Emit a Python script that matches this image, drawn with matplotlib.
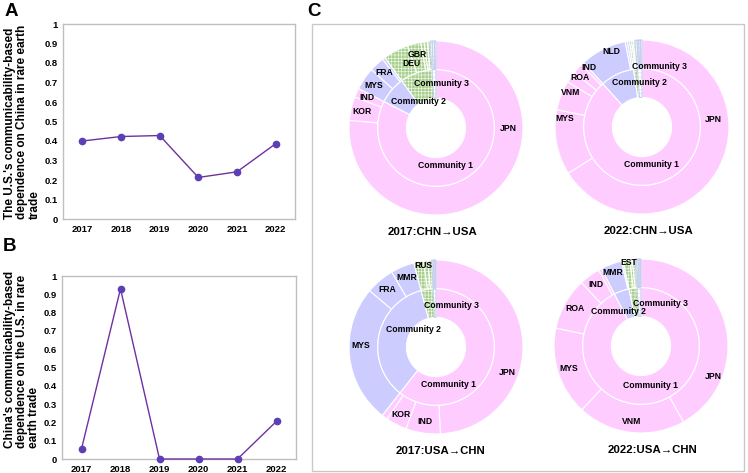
import numpy as np
import matplotlib
matplotlib.use("Agg")
import matplotlib.pyplot as plt
from matplotlib.patches import Rectangle

plt.rcParams['font.family'] = ['Liberation Sans', 'DejaVu Sans']
plt.rcParams['font.weight'] = 'bold'
plt.rcParams['hatch.linewidth'] = 0.35

# ---- data: panels A / B ----
years = ['2017', '2018', '2019', '2020', '2021', '2022']
us_dep_on_china = [0.40, 0.423, 0.428, 0.213, 0.242, 0.386]
china_dep_on_us = [0.055, 0.93, 0.0, 0.0, 0.0, 0.206]

# ---- data: panel C (outer ring shares in %, community of each slice) ----
# community 0 = Community 1, 1 = Community 2, 2 = Community 3, 3 = others
titles = ['2017:CHN\u2192USA', '2022:CHN\u2192USA', '2017:USA\u2192CHN', '2022:USA\u2192CHN']

names_17_cu = ['JPN', 'KOR', 'IND', 'MYS', 'FRA', '', 'DEU', 'GBR', '', '', '', '', '', '']
share_17_cu = [76.4, 4.4, 1.7, 4.2, 2.8, 0.5, 4.7, 2.5, 0.6, 0.6, 0.5, 0.4, 0.4, 0.3]
comm_17_cu = [0, 0, 0, 1, 1, 1, 2, 2, 2, 2, 2, 3, 3, 3]

names_22_cu = ['JPN', 'MYS', 'VNM', 'ROA', 'IND', '', 'NLD', '', '', '', '', '', '', '', '', '']
share_22_cu = [66.1, 12.1, 5.5, 2.1, 1.9, 0.6, 8.6, 0.4, 0.4, 0.4, 0.3, 0.3, 0.4, 0.3, 0.3, 0.3]
comm_22_cu = [0, 0, 0, 0, 0, 0, 1, 1, 1, 2, 2, 2, 3, 3, 3, 3]

names_17_uc = ['JPN', 'IND', 'KOR', '', 'MYS', 'FRA', 'MMR', 'RUS', '', '', '', '', '']
share_17_uc = [49.2, 6.4, 3.9, 1.1, 25.6, 5.3, 4.4, 1.8, 0.8, 0.7, 0.3, 0.3, 0.2]
comm_17_uc = [0, 0, 0, 0, 1, 1, 1, 2, 2, 2, 3, 3, 3]

names_22_uc = ['JPN', 'VNM', 'MYS', 'ROA', 'IND', '', 'MMR', '', 'EST', '', '', '', '', '', '']
share_22_uc = [41.9, 20.0, 16.4, 9.7, 3.9, 0.6, 3.9, 0.3, 1.2, 0.5, 0.5, 0.3, 0.3, 0.3, 0.2]
comm_22_uc = [0, 0, 0, 0, 0, 0, 1, 1, 2, 2, 2, 3, 3, 3, 3]

community_names = ['Community 1', 'Community 2', 'Community 3', '']

charts = [(names_17_cu, share_17_cu, comm_17_cu),
          (names_22_cu, share_22_cu, comm_22_cu),
          (names_17_uc, share_17_uc, comm_17_uc),
          (names_22_uc, share_22_uc, comm_22_uc)]

# label placement tweaks (clockwise degrees from 12 o'clock, radius)
label_moves = [
    {'JPN': (90, 0.83), 'DEU': (339, 0.80), 'Community 1': (166, 0.45),
     'Community 2': (326, 0.37), 'Community 3': (7, 0.52)},
    {'JPN': (84, 0.82), 'MYS': (276, 0.89), 'NLD': (338, 0.93), 'IND': (318, 0.92),
     'ROA': (309, 0.91), 'VNM': (296, 0.91), 'Community 1': (166, 0.44),
     'Community 2': (357, 0.51), 'Community 3': (16, 0.72)},
    {'JPN': (110, 0.87), 'MYS': (271, 0.87), 'RUS': (351, 0.95), 'Community 1': (162, 0.45),
     'Community 2': (307, 0.33), 'Community 3': (20, 0.51)},
    {'JPN': (113, 0.9), 'EST': (351.5, 0.97), 'MMR': (339, 0.91), 'Community 1': (167, 0.47),
     'Community 2': (327, 0.47), 'Community 3': (24, 0.54)},
]

fill_colors = ['#FFCCFF', '#CCCCFF', '#A9D18E', '#FFFFFF']
hatches = [None, None, '+++++', '----']
edge_colors = ['white', 'white', 'white', '#C5D0EC']

W, H = 748, 473
fig = plt.figure(figsize=(W / 100, H / 100), dpi=100)


def px_axes(x0, y0, x1, y1):
    return fig.add_axes([x0 / W, 1 - y1 / H, (x1 - x0) / W, (y1 - y0) / H])


def line_panel(ax, values):
    x = np.arange(len(years))
    ax.plot(x, values, color='#7030A0', lw=1, marker='o', ms=4.5,
            mfc='#5B40B5', mec='#5B40B5', clip_on=False, zorder=3)
    ax.set_xlim(-0.5, len(years) - 0.5)
    ax.set_ylim(0, 1)
    ax.set_xticks(x)
    ax.set_xticklabels(years)
    ticks = np.round(np.arange(0, 1.01, 0.1), 1)
    ax.set_yticks(ticks)
    ax.set_yticklabels(['0' if t == 0 else ('1' if t == 1 else f'{t:g}') for t in ticks])
    ax.tick_params(length=0, labelsize=6.8, pad=4)
    for sp in ax.spines.values():
        sp.set_color('#BFBFBF')
        sp.set_linewidth(1)


axA = px_axes(63, 24, 295, 219)
line_panel(axA, us_dep_on_china)
fig.text(22 / W, 1 - 122 / H,
         "The U.S.'s communicability-based\ndependence on China in rare earth\ntrade",
         rotation=90, ha='center', va='center', multialignment='left',
         fontsize=8.5, linespacing=1.05)

axB = px_axes(62, 276, 296, 459)
line_panel(axB, china_dep_on_us)
fig.text(22 / W, 1 - 359 / H,
         "China's communicability-based\ndependence on the U.S. in rare\nearth trade",
         rotation=90, ha='center', va='center', multialignment='left',
         fontsize=8.5, linespacing=1.05)

fig.text(11 / W, 1 - 11 / H, 'A', fontsize=13.5, ha='center', va='center')
fig.text(9 / W, 1 - 246 / H, 'B', fontsize=13.5, ha='center', va='center')
fig.text(314 / W, 1 - 12 / H, 'C', fontsize=13.5, ha='center', va='center')

# panel C frame
fig.add_artist(Rectangle((312 / W, 1 - 470.5 / H), (744 - 312) / W, (470.5 - 24) / H,
                         transform=fig.transFigure, fill=False, ec='#C8C8C8', lw=1))

centers = [(436, 128), (642, 127), (436, 347), (641, 346)]
title_shift = [-4, 6, 4, 11]
R = 87
r_hole, r_mid = 0.34, 0.67


def cw_to_xy(angle_cw, r):
    a = np.deg2rad(90 - angle_cw)
    return r * np.cos(a), r * np.sin(a)


for i, (names, shares, comms) in enumerate(charts):
    cx, cy = centers[i]
    ax = px_axes(cx - R, cy - R, cx + R, cy + R)
    ax.axis('off')

    inner_vals = [sum(s for s, c in zip(shares, comms) if c == k) for k in range(4)]

    outer, _ = ax.pie(shares, radius=1.0, startangle=90, counterclock=False,
                      colors=[fill_colors[c] for c in comms],
                      wedgeprops=dict(width=1.0 - r_mid, lw=0.8))
    inner, _ = ax.pie(inner_vals, radius=r_mid, startangle=90, counterclock=False,
                      colors=fill_colors,
                      wedgeprops=dict(width=r_mid - r_hole, lw=0.8))
    for w, c in zip(outer, comms):
        w.set_edgecolor(edge_colors[c])
        if hatches[c]:
            w.set_hatch(hatches[c])
    for w, c in zip(inner, range(4)):
        w.set_edgecolor(edge_colors[c])
        if hatches[c]:
            w.set_hatch(hatches[c])
    ax.set_xlim(-1, 1)
    ax.set_ylim(-1, 1)

    moves = label_moves[i]
    total = sum(shares)
    start = 0.0
    for name, s in zip(names, shares):
        mid = (start + s / 2) / total * 360
        start += s
        if not name:
            continue
        ang, rr = moves.get(name, (mid, 0.87))
        x, y = cw_to_xy(ang, rr)
        ax.text(x, y, name, ha='center', va='center', fontsize=6.2)
    start = 0.0
    for name, s in zip(community_names, inner_vals):
        mid = (start + s / 2) / total * 360
        start += s
        if not name:
            continue
        ang, rr = moves.get(name, (mid, 0.5))
        x, y = cw_to_xy(ang, rr)
        ax.text(x, y, name, ha='center', va='center', fontsize=6.2, clip_on=False)

    ax.text(title_shift[i] / R, -1.19, titles[i], ha='center', va='center',
            fontsize=8.2, clip_on=False)

fig.savefig('out.png', dpi=100)
